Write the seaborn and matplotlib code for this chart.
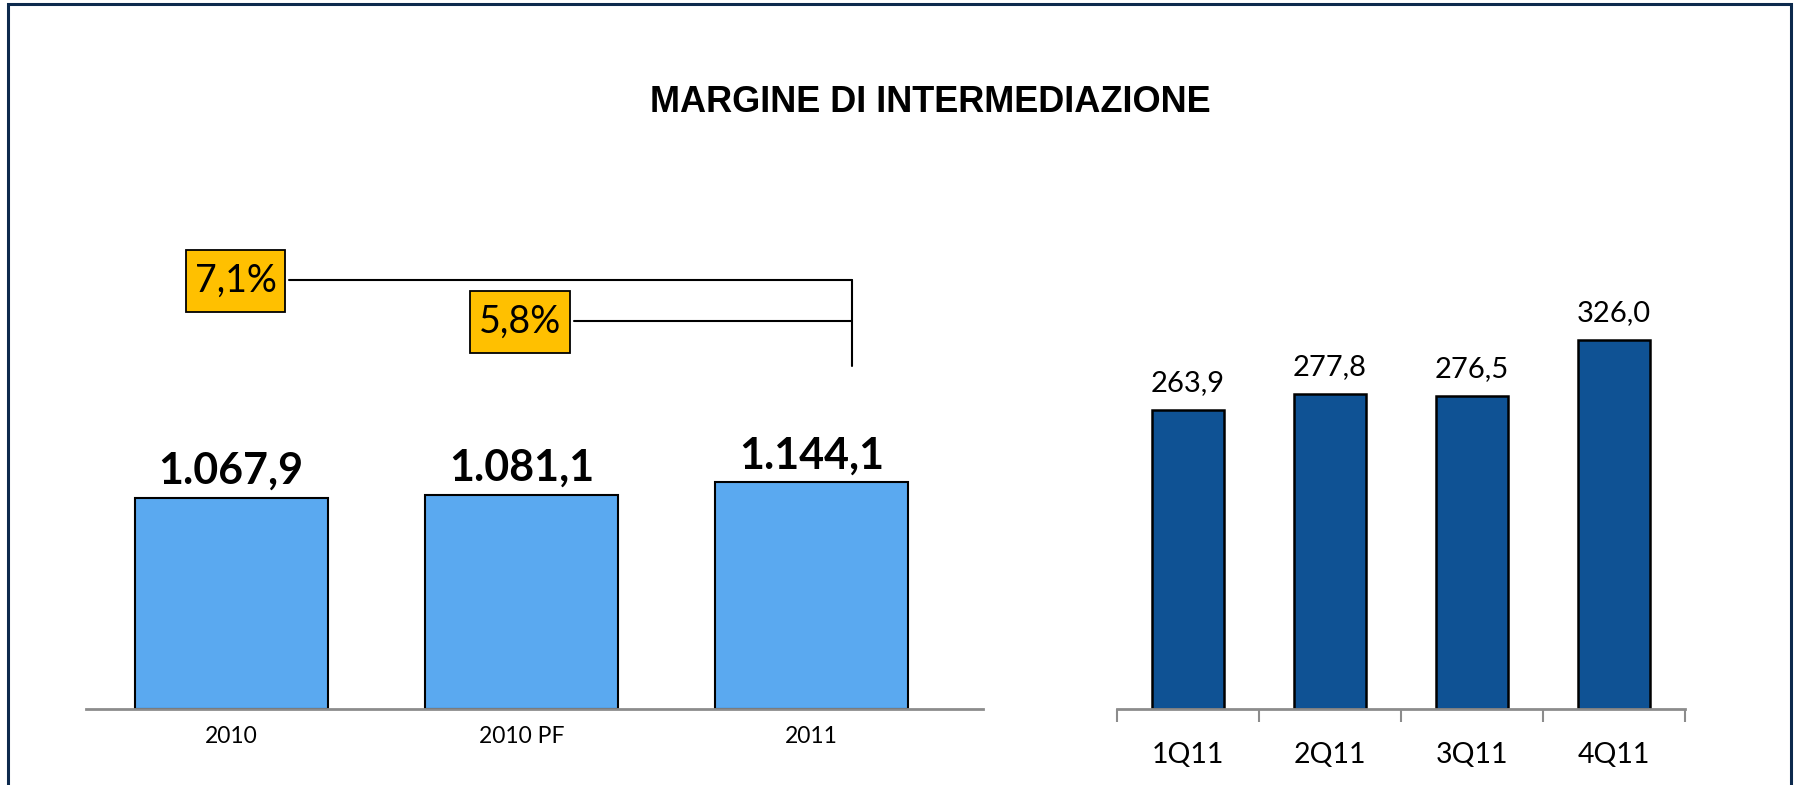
#!/usr/bin/env python3

import pandas
import seaborn as sns
import matplotlib.pyplot as plt
from matplotlib.patches import Rectangle

# Annual values
years = ["2010", "2010 PF", "2011"]
annual_values = [1067.9, 1081.1, 1144.1]
annual_labels = ["1.067,9", "1.081,1", "1.144,1"]

# Quarterly values
quarters = ["1Q11", "2Q11", "3Q11", "4Q11"]
quarter_values = [263.9, 277.8, 276.5, 326.0]
quarter_labels = ["263,9", "277,8", "276,5", "326,0"]

# Growth callouts
growth_labels = ["7,1%", "5,8%"]

title = "MARGINE DI INTERMEDIAZIONE"


def main():
    sns.set_theme(style="white")
    plt.rcParams["font.family"] = ["Lato", "DejaVu Sans"]
    plt.rcParams["text.color"] = "black"
    plt.rcParams["xtick.labelcolor"] = "black"

    W, H = 1797, 785
    fig = plt.figure(figsize=(W / 100, H / 100), dpi=100)

    # frame around the slide
    fig.patches.append(
        Rectangle(
            (7.5 / W, -0.05), (1791 - 7.5) / W, 1.05 - 4 / H,
            transform=fig.transFigure, fill=False, ec="#0d2a4d", lw=2.2,
        )
    )

    fig.text(
        930 / W, 1 - 103 / H, title, ha="center", va="center",
        fontsize=26, fontweight="bold", family="Liberation Sans",
    )

    base = 709
    top = 250
    ax1 = fig.add_axes([86 / W, (H - base) / H, (983 - 86) / W, (base - top) / H])
    ax2 = fig.add_axes([1117 / W, (H - base) / H, (1685 - 1117) / W, (base - top) / H])

    df1 = pandas.DataFrame({"year": years, "value": annual_values})
    df2 = pandas.DataFrame({"quarter": quarters, "value": quarter_values})

    sns.barplot(
        data=df1, x="year", y="value", ax=ax1, color="#5aa9f0",
        width=0.665, edgecolor="black", linewidth=1.5, saturation=1,
    )
    sns.barplot(
        data=df2, x="quarter", y="value", ax=ax2, color="#0f5294",
        width=0.51, edgecolor="black", linewidth=1.8, saturation=1,
    )

    ax1.set_xlim(-0.5, 2.59)
    ax1.set_ylim(0, 2318)
    ax2.set_xlim(-0.5, 3.5)
    ax2.set_ylim(0, 405)

    ax1.bar_label(ax1.containers[0], labels=annual_labels, padding=5,
                  fontsize=31, fontweight="bold")
    ax2.bar_label(ax2.containers[0], labels=quarter_labels, padding=10,
                  fontsize=21)

    for ax in (ax1, ax2):
        ax.set_xlabel("")
        ax.set_ylabel("")
        ax.set_yticks([])
        for side in ("top", "right", "left"):
            ax.spines[side].set_visible(False)
        ax.spines["bottom"].set_color("#8c8c8c")
        ax.spines["bottom"].set_linewidth(2)
        ax.set_facecolor("none")

    ax1.tick_params(axis="x", length=0, pad=12, labelsize=16.5)
    ax2.tick_params(axis="x", which="major", length=0, pad=24, labelsize=20.5)
    ax2.set_xticks([-0.5, 0.5, 1.5, 2.5, 3.5], minor=True)
    ax2.tick_params(axis="x", which="minor", length=9, width=1.5,
                    color="#8c8c8c", direction="out", bottom=True)

    # growth brackets
    xr = 2.139
    y_hi, y_lo, y_end = 2166, 1958, 1731
    for (x0, x1, y0, y1) in [(-0.156, 0.186, 2005, 2318), (0.823, 1.167, 1798, 2111)]:
        ax1.add_patch(Rectangle((x0, y0), x1 - x0, y1 - y0, fc="#ffc000",
                                ec="black", lw=1.3, clip_on=False, zorder=4))
    ax1.text(0.015, 2161, growth_labels[0], ha="center", va="center",
             fontsize=27, zorder=5)
    ax1.text(0.995, 1955, growth_labels[1], ha="center", va="center",
             fontsize=27, zorder=5)
    ax1.plot([0.2, xr], [y_hi, y_hi], color="black", lw=1.5, clip_on=False)
    ax1.plot([1.18, xr], [y_lo, y_lo], color="black", lw=1.5, clip_on=False)
    ax1.plot([xr, xr], [y_hi, y_end], color="black", lw=1.5, clip_on=False)

    fig.savefig("out.png", dpi=100)


if __name__ == "__main__":
    main()
